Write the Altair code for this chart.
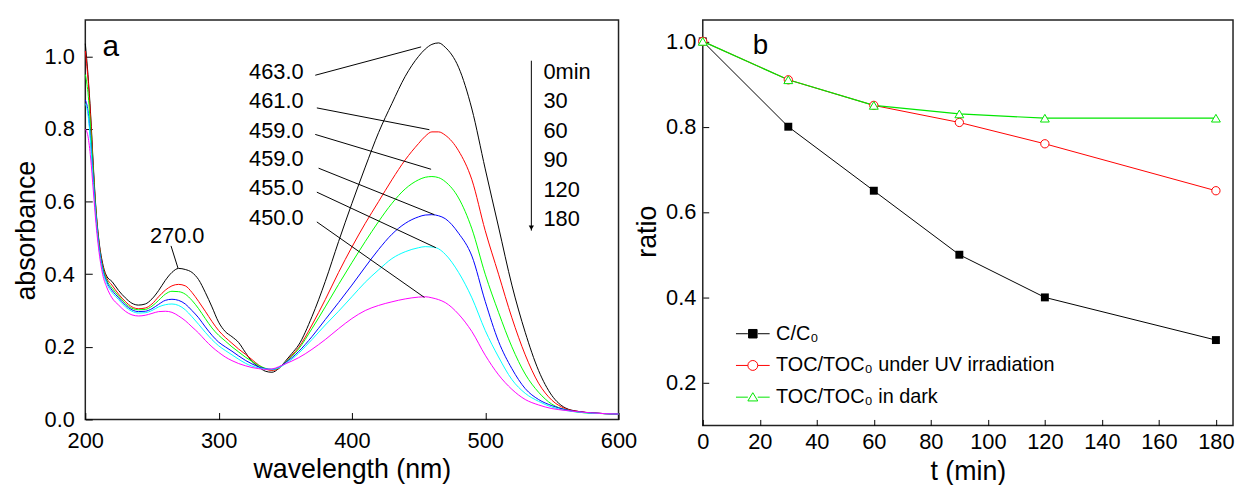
import altair as alt
import pandas as pd

FONT = "Liberation Sans"

# ---------------- panel a : UV-vis spectra ----------------
wavelength = [200, 202, 204, 206, 208, 210, 213, 216, 220,
              225, 230, 235, 240, 245, 250, 255, 260, 265, 270, 275, 280, 285, 290,
              295, 300, 305, 310, 315, 320, 325, 330, 335, 340,
              345, 350, 355, 360,
              370, 380, 390, 400, 410, 420, 430, 440, 450,
              455, 460, 465, 470,
              480, 490, 500, 510, 520, 530, 540, 550, 560, 570, 580, 590, 600]

abs_0min = [1.035, 0.95, 0.84, 0.70, 0.58, 0.50, 0.43, 0.395, 0.38,
            0.355, 0.335, 0.32, 0.315, 0.318, 0.332, 0.355, 0.383, 0.405, 0.416, 0.413, 0.405, 0.385, 0.35,
            0.31, 0.268, 0.242, 0.228, 0.212, 0.185, 0.16, 0.145, 0.133, 0.13,
            0.14, 0.16, 0.182, 0.205,
            0.283, 0.38, 0.49, 0.595, 0.695, 0.79, 0.87, 0.945, 1.0,
            1.02, 1.033, 1.037, 1.025,
            0.97, 0.855, 0.69, 0.53, 0.37, 0.24, 0.135, 0.066, 0.032, 0.022, 0.018, 0.016, 0.015]
abs_30 = [1.015, 0.94, 0.83, 0.69, 0.575, 0.495, 0.425, 0.39, 0.37,
          0.345, 0.325, 0.31, 0.305, 0.307, 0.318, 0.338, 0.356, 0.368, 0.372, 0.368, 0.35, 0.325, 0.298,
          0.27, 0.245, 0.226, 0.21, 0.194, 0.18, 0.165, 0.15, 0.139, 0.135,
          0.14, 0.157, 0.177, 0.198,
          0.26, 0.33, 0.405, 0.475, 0.54, 0.60, 0.66, 0.715, 0.76,
          0.78, 0.792, 0.792, 0.783,
          0.74, 0.66, 0.52, 0.40, 0.28, 0.178, 0.10, 0.053, 0.03, 0.022, 0.018, 0.016, 0.015]
abs_60 = [0.95, 0.90, 0.80, 0.68, 0.57, 0.49, 0.42, 0.385, 0.362,
          0.34, 0.32, 0.306, 0.302, 0.303, 0.312, 0.328, 0.345, 0.353, 0.352, 0.345, 0.328, 0.305, 0.278,
          0.252, 0.232, 0.216, 0.2, 0.186, 0.172, 0.16, 0.149, 0.141, 0.137,
          0.142, 0.157, 0.174, 0.194,
          0.25, 0.31, 0.372, 0.432, 0.49, 0.545, 0.595, 0.635, 0.66,
          0.667, 0.669, 0.666, 0.655,
          0.61, 0.525, 0.40, 0.295, 0.20, 0.125, 0.075, 0.042, 0.027, 0.02, 0.017, 0.016, 0.015]
abs_90 = [0.88, 0.85, 0.77, 0.66, 0.56, 0.485, 0.415, 0.38, 0.356,
          0.335, 0.315, 0.302, 0.297, 0.298, 0.305, 0.317, 0.328, 0.331, 0.328, 0.318, 0.3, 0.28, 0.255,
          0.232, 0.213, 0.2, 0.188, 0.175, 0.163, 0.153, 0.145, 0.14, 0.138,
          0.143, 0.156, 0.17, 0.187,
          0.228, 0.275, 0.322, 0.37, 0.42, 0.468, 0.51, 0.54, 0.558,
          0.563, 0.564, 0.561, 0.553,
          0.513, 0.45, 0.325, 0.215, 0.14, 0.085, 0.055, 0.038, 0.027, 0.021, 0.018, 0.016, 0.015]
abs_120 = [0.87, 0.84, 0.76, 0.65, 0.555, 0.48, 0.41, 0.375, 0.35,
           0.33, 0.31, 0.298, 0.293, 0.294, 0.3, 0.31, 0.316, 0.318, 0.314, 0.302, 0.283, 0.262, 0.24,
           0.22, 0.203, 0.19, 0.178, 0.166, 0.155, 0.147, 0.142, 0.139, 0.138,
           0.142, 0.153, 0.166, 0.182,
           0.22, 0.26, 0.298, 0.338, 0.378, 0.412, 0.443, 0.462, 0.473,
           0.476, 0.475, 0.47, 0.455,
           0.405, 0.335, 0.245, 0.172, 0.11, 0.072, 0.05, 0.034, 0.025, 0.02, 0.017, 0.016, 0.015]
abs_180 = [0.80, 0.78, 0.72, 0.63, 0.54, 0.47, 0.40, 0.365, 0.335,
           0.315, 0.298, 0.288, 0.285, 0.287, 0.292, 0.297, 0.298, 0.295, 0.285, 0.272, 0.255, 0.238, 0.218,
           0.2, 0.185, 0.172, 0.162, 0.154, 0.148, 0.143, 0.14, 0.138, 0.139,
           0.145, 0.153, 0.161, 0.17,
           0.193, 0.22, 0.25, 0.278, 0.3, 0.314, 0.324, 0.332, 0.337,
           0.338, 0.335, 0.33, 0.322,
           0.29, 0.242, 0.177, 0.123, 0.083, 0.055, 0.04, 0.03, 0.025, 0.021, 0.018, 0.016, 0.015]

times = ["0min", "30", "60", "90", "120", "180"]
spectra = [abs_0min, abs_30, abs_60, abs_90, abs_120, abs_180]
spectra_colors = ["#000000", "#ff0000", "#00ff00", "#0000ff", "#00ffff", "#ff00ff"]

peak_labels = ["463.0", "461.0", "459.0", "459.0", "455.0", "450.0"]

# ---------------- panel b : ratios ----------------
t_min = [0, 30, 60, 90, 120, 180]
c_ratio = [1.0, 0.80, 0.65, 0.50, 0.40, 0.30]
toc_uv = [1.0, 0.91, 0.85, 0.81, 0.76, 0.65]
toc_dark = [1.0, 0.91, 0.85, 0.83, 0.82, 0.82]
series_names = ["C/C\u2080", "TOC/TOC\u2080 under UV irradiation", "TOC/TOC\u2080 in dark"]
series_colors = ["#000000", "#ff0000", "#00e600"]

# ---------------- tables ----------------
rows = []
for name, vals in zip(times, spectra):
    for w, a in zip(wavelength, vals):
        rows.append({"wavelength": w, "absorbance": a, "time": name})
spec_df = pd.DataFrame(rows)

# annotation placement (data units)
peak_df = pd.DataFrame({
    "label": peak_labels,
    "wavelength": [363.8] * 6,
    "absorbance": [0.939, 0.859, 0.776, 0.698, 0.617, 0.535],
})
leader_df = pd.DataFrame({
    "wavelength": [372.5, 373.7, 372.5, 375.0, 373.7, 373.7],
    "absorbance": [0.948, 0.858, 0.785, 0.692, 0.626, 0.544],
    "wavelength2": [451.9, 458.1, 459.4, 461.8, 463.0, 454.4],
    "absorbance2": [1.026, 0.798, 0.689, 0.564, 0.473, 0.336],
})
time_df = pd.DataFrame({
    "label": times,
    "wavelength": [543.7] * 6,
    "absorbance": [0.939, 0.858, 0.776, 0.694, 0.613, 0.533],
})
arrow_df = pd.DataFrame({"wavelength": [534.6], "absorbance": [0.988], "absorbance2": [0.52]})
head_df = pd.DataFrame({"wavelength": [534.6], "absorbance": [0.528]})
p270_df = pd.DataFrame({"label": ["270.0"], "wavelength": [268.9], "absorbance": [0.486]})
p270_rule = pd.DataFrame({"wavelength": [264.3], "absorbance": [0.478],
                          "wavelength2": [269.5], "absorbance2": [0.417]})
a_df = pd.DataFrame({"label": ["a"], "wavelength": [212.9], "absorbance": [1.0]})

x_scale_a = alt.Scale(domain=[200, 600], nice=False, zero=False)
y_scale_a = alt.Scale(domain=[0, 1.1], nice=False, zero=False)
x_axis_a = alt.Axis(title="wavelength (nm)", values=[200, 300, 400, 500, 600], format="d",
                    offset=-7, tickSize=7, domain=False, grid=False, labelPadding=11,
                    labelFlush=False, labelOverlap=False, titleFontSize=27,
                    titleY=66, titleBaseline="alphabetic")
y_axis_a = alt.Axis(title="absorbance", values=[0, 0.2, 0.4, 0.6, 0.8, 1.0], format=".1f",
                    offset=-7, tickSize=7, domain=False, grid=False, labelPadding=11,
                    labelFlush=False, labelOverlap=False, titleFontSize=27,
                    titleX=-58, titleY=212, titleAngle=270, titleAlign="center",
                    titleBaseline="alphabetic")
XA = alt.X("wavelength:Q", scale=x_scale_a, axis=x_axis_a)
YA = alt.Y("absorbance:Q", scale=y_scale_a, axis=y_axis_a)

lines_a = alt.Chart(spec_df).mark_line(strokeWidth=1, interpolate="monotone").encode(
    x=XA, y=YA,
    color=alt.Color("time:N", scale=alt.Scale(domain=times, range=spectra_colors), legend=None),
    order=alt.Order("wavelength:Q"),
)
leaders = alt.Chart(leader_df).mark_rule(color="black", strokeWidth=1).encode(
    x=XA, y=YA, x2="wavelength2:Q", y2="absorbance2:Q")
peak_text = alt.Chart(peak_df).mark_text(align="right", baseline="alphabetic", font=FONT,
                                         fontSize=22, color="black").encode(x=XA, y=YA, text="label:N")
time_text = alt.Chart(time_df).mark_text(align="left", baseline="alphabetic", font=FONT,
                                         fontSize=22, color="black").encode(x=XA, y=YA, text="label:N")
arrow = alt.Chart(arrow_df).mark_rule(color="black", strokeWidth=1).encode(
    x=XA, y=YA, y2="absorbance2:Q")
head = alt.Chart(head_df).mark_point(shape="triangle-down", filled=True, color="black",
                                     size=28, opacity=1).encode(x=XA, y=YA)
p270_text = alt.Chart(p270_df).mark_text(align="center", baseline="alphabetic", font=FONT,
                                         fontSize=22, color="black").encode(x=XA, y=YA, text="label:N")
p270_line = alt.Chart(p270_rule).mark_rule(color="black", strokeWidth=1).encode(
    x=XA, y=YA, x2="wavelength2:Q", y2="absorbance2:Q")
a_text = alt.Chart(a_df).mark_text(align="left", baseline="alphabetic", font=FONT,
                                   fontSize=30, color="black").encode(x=XA, y=YA, text="label:N")

left = alt.layer(lines_a, leaders, peak_text, time_text, arrow, head, p270_line, p270_text,
                 a_text).properties(width=538, height=403)

# ---------------- panel b chart ----------------
x_scale_b = alt.Scale(domain=[0, 186], nice=False, zero=False)
y_scale_b = alt.Scale(domain=[0.1, 1.05], nice=False, zero=False)
x_axis_b = alt.Axis(title="t (min)", values=list(range(0, 181, 20)), format="d",
                    offset=-6, tickSize=6, domain=False, grid=False, labelPadding=6,
                    labelFlush=False, labelOverlap=False, titleFontSize=27,
                    titleY=61, titleBaseline="alphabetic")
y_axis_b = alt.Axis(title="ratio", values=[0.2, 0.4, 0.6, 0.8, 1.0], format=".1f",
                    offset=-6, tickSize=6, domain=False, grid=False, labelPadding=7,
                    labelFlush=False, labelOverlap=False, titleFontSize=27,
                    titleX=-54, titleY=213, titleAngle=270, titleAlign="center",
                    titleBaseline="alphabetic")
XB = alt.X("t:Q", scale=x_scale_b, axis=x_axis_b)
YB = alt.Y("ratio:Q", scale=y_scale_b, axis=y_axis_b)

b_rows = []
for name, vals in zip(series_names, [c_ratio, toc_uv, toc_dark]):
    for t, r in zip(t_min, vals):
        b_rows.append({"t": t, "ratio": r, "series": name})
ratio_df = pd.DataFrame(b_rows)

def series(i):
    return alt.Chart(ratio_df).transform_filter(alt.datum.series == series_names[i])

line_c = series(0).mark_line(color=series_colors[0], strokeWidth=1).encode(x=XB, y=YB)
line_uv = series(1).mark_line(color=series_colors[1], strokeWidth=1).encode(x=XB, y=YB)
line_dk = series(2).mark_line(color=series_colors[2], strokeWidth=1.2).encode(x=XB, y=YB)
pt_c = series(0).mark_point(shape="square", filled=True, color="black", size=64,
                            opacity=1).encode(x=XB, y=YB)
pt_uv = series(1).mark_point(shape="circle", filled=True, fill="white", stroke="#ff0000",
                             strokeWidth=1, size=70, opacity=1).encode(x=XB, y=YB)
pt_dk = series(2).mark_point(shape="triangle-up", filled=True, fill="white", stroke="#00e600",
                             strokeWidth=1, size=80, opacity=1).encode(x=XB, y=YB)

sq_path = "M-1.7,0H-0.5M0.5,0H1.7M-0.43,-0.43H0.43V0.43H-0.43Z"
ci_path = "M-1.7,0H-0.5M0.5,0H1.7M0.5,0A0.5,0.5,0,1,1,-0.5,0A0.5,0.5,0,1,1,0.5,0Z"
tr_path = "M-1.7,0H-0.5M0.5,0H1.7M0,-0.45L0.5,0.38L-0.5,0.38Z"

# legend of a concatenated chart is placed relative to the left panel's origin
legend = alt.Legend(orient="none", legendX=663, legendY=306, title=None, padding=0,
                    labelFont=FONT, labelFontSize=20, labelColor="black", labelOffset=13,
                    symbolSize=400, symbolStrokeWidth=1, rowPadding=11, labelLimit=400)
legend_layer = alt.Chart(ratio_df).transform_filter("false").mark_point(opacity=1).encode(
    x=XB, y=YB,
    stroke=alt.Stroke("series:N", scale=alt.Scale(domain=series_names, range=series_colors),
                      legend=legend),
    fill=alt.Fill("series:N", scale=alt.Scale(domain=series_names,
                                              range=["#000000", "#ffffff", "#ffffff"]),
                  legend=legend),
    shape=alt.Shape("series:N", scale=alt.Scale(domain=series_names,
                                                range=[sq_path, ci_path, tr_path]),
                    legend=legend),
)
b_df = pd.DataFrame({"label": ["b"], "t": [17.5], "ratio": [0.971]})
b_text = alt.Chart(b_df).mark_text(align="left", baseline="alphabetic", font=FONT,
                                   fontSize=28, color="black").encode(x=XB, y=YB, text="label:N")

right = alt.layer(line_c, line_uv, line_dk, pt_c, pt_uv, pt_dk, legend_layer,
                  b_text).properties(width=535, height=409)

chart = alt.hconcat(left, right, spacing=85, bounds="flush").properties(
    padding={"left": 4, "top": 9, "right": 0, "bottom": 0}
).configure_view(stroke="#222222", strokeWidth=1.5).configure_axis(
    labelFont=FONT, titleFont=FONT, labelFontSize=22, labelColor="black",
    titleColor="black", tickColor="black", tickWidth=1, titleFontWeight="normal",
)

chart.save("out.html", embed_options={"renderer": "svg", "actions": False})
